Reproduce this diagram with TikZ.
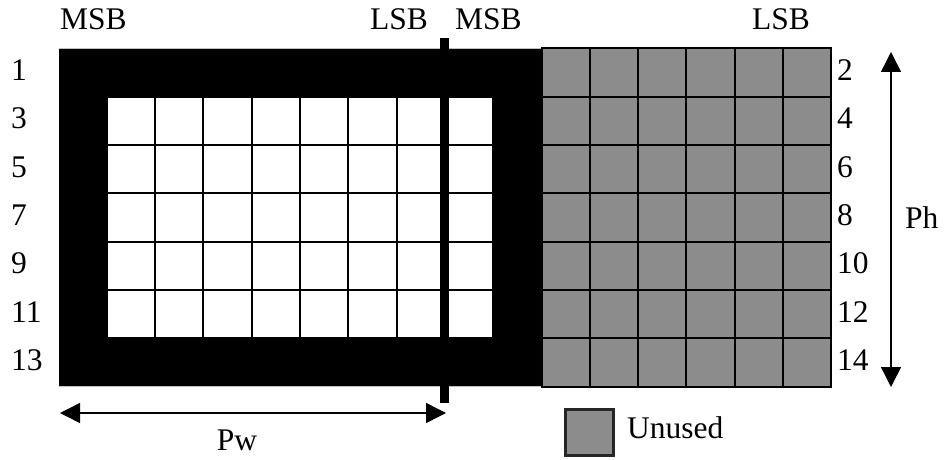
\documentclass[tikz,border=0pt]{standalone}
\usepackage{fontspec}
\setmainfont{Liberation Serif}
\usetikzlibrary{arrows.meta}
\definecolor{unusedgray}{HTML}{8C8C8C}
\tikzset{
  lbl/.style={anchor=base west, inner sep=0pt},
  whitecell/.style={draw=black, fill=white, line width=2pt},
  graycell/.style={draw=black, fill=unusedgray, line width=2pt},
  dimarrow/.style={{Triangle[length=20pt,width=20pt]}-{Triangle[length=20pt,width=20pt]}, line width=1.5pt},
}
\begin{document}
\begin{tikzpicture}[x=1pt,y=-1pt, font=\fontsize{31.5}{37}\selectfont]
\useasboundingbox (0,0) rectangle (945,460);
\def\cw{48.3}
\def\xo{58.5}
\def\yo{48.5}
% black frame region
\fill[black] (\xo,\yo) rectangle ++(10*\cw,7*\cw);
\draw[gray!50, line width=0.8pt] (\xo,\yo) -- ++(10*\cw,0);
\draw[gray!50, line width=0.8pt] (\xo,\yo+7*\cw) -- ++(10*\cw,0);
% white cells
\foreach \c in {1,...,8}
  \foreach \r in {1,...,5}
    \draw[whitecell] (\xo+\c*\cw,\yo+\r*\cw) rectangle ++(\cw,\cw);
% gray unused cells
\foreach \c in {10,...,15}
  \foreach \r in {0,...,6}
    \draw[graycell] (\xo+\c*\cw,\yo+\r*\cw) rectangle ++(\cw,\cw);
% thick separator bar
\node[name=bar, fill=black, minimum width=9pt, minimum height=365pt, inner sep=0pt] at (444.5,220.5) {};
% top labels
\node[lbl] (msb1) at (60,30) {MSB};
\node[lbl] (lsb1) at (370,30) {LSB};
\node[lbl] (msb2) at (455,30) {MSB};
\node[lbl] (lsb2) at (752,30) {LSB};
% row labels
\foreach \i/\l/\r in {0/1/2,1/3/4,2/5/6,3/7/8,4/9/10,5/11/12,6/13/14} {
  \node[lbl] (left\l) at (11,\yo+\i*\cw+32) {\l};
  \node[lbl] (right\r) at (837,\yo+\i*\cw+32) {\r};
}
% Ph arrow
\coordinate (phT) at (891,52);
\coordinate (phB) at (891,387);
\draw[dimarrow] (phT) -- (phB);
\node[lbl] (ph) at (905,228) {Ph};
% Pw arrow
\coordinate (pwL) at (60,413);
\coordinate (pwR) at (446,413);
\draw[dimarrow] (pwL) -- (pwR);
\node[anchor=base, inner sep=0pt] (pw) at (237,450) {Pw};
% legend
\node[name=legend, draw=black!85, fill=unusedgray, line width=2.5pt, minimum width=48pt, minimum height=46pt, inner sep=0pt] at (589.5,432.5) {};
\node[lbl] (unused) at (627,438) {Unused};
\end{tikzpicture}
\end{document}
